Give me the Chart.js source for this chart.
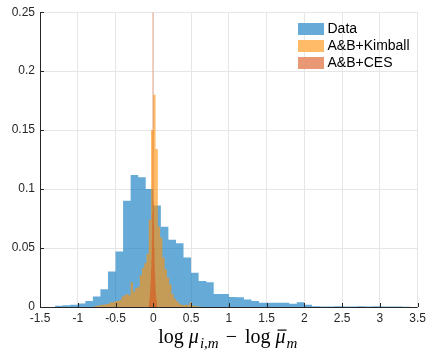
<!DOCTYPE html>
<html>
<head>
<meta charset="utf-8">
<script src="https://cdn.jsdelivr.net/npm/chart.js@4"></script>
<style>
  html, body { margin: 0; padding: 0; background: #fff; }
  #wrap { width: 430px; height: 351px; }
</style>
</head>
<body>
<div id="wrap"><canvas id="hist" width="430" height="351"></canvas></div>
<script>
// Histogramas (probabilidade por bin) -----------------------------------------
const seriesNames = ["Data", "A&B+Kimball", "A&B+CES"];

// Data: bins de 0.1 a partir de -1.3
const dataStart = -1.3, dataWidth = 0.1;
const dataHeights = [
  0.001, 0.0015, 0.002, 0.003, 0.005, 0.009, 0.015, 0.030, 0.047, 0.090,
  0.112, 0.110, 0.100, 0.086, 0.068, 0.057, 0.054, 0.042, 0.029, 0.022,
  0.021, 0.011, 0.011, 0.0085, 0.0083, 0.0064, 0.005, 0.0036, 0.0036, 0.0036,
  0.0036, 0.0027, 0.004, 0.002, 0.0006, 0.0004, 0.0005, 0.0006, 0.0004, 0.0005,
  0.0007, 0.0004, 0.0006, 0.0005, 0.0004, 0.0005, 0.0003
];

// A&B+Kimball: bins de 0.03 a partir de -0.78
const kimStart = -0.78, kimWidth = 0.03;
const kimHeights = [
  0.0008, 0.001, 0.0015, 0.002, 0.002, 0.0025, 0.003, 0.004, 0.004, 0.005,
  0.005, 0.006, 0.009, 0.010, 0.011, 0.010, 0.021, 0.013, 0.016, 0.017,
  0.027, 0.033, 0.037, 0.045, 0.074, 0.150, 0.180, 0.134, 0.068, 0.059,
  0.042, 0.032, 0.025, 0.019, 0.011, 0.007, 0.005, 0.003, 0.002, 0.0015,
  0.002, 0.0015, 0.004, 0.001, 0.001, 0.0005, 0.0005
];

// A&B+CES: bins de 0.005 a partir de -0.06 (o pico passa do topo do eixo)
const cesStart = -0.06, cesWidth = 0.005;
const cesHeights = [
  0.003, 0.005, 0.008, 0.012, 0.018, 0.024, 0.032, 0.040, 0.055, 0.080,
  0.60, 0.60, 0.090, 0.070, 0.050, 0.038, 0.028, 0.020, 0.013, 0.008,
  0.005, 0.003
];

// Eixos
const xTicks = [-1.5, -1, -0.5, 0, 0.5, 1, 1.5, 2, 2.5, 3, 3.5];
const xTickLabels = ["-1.5", "-1", "-0.5", "0", "0.5", "1", "1.5", "2", "2.5", "3", "3.5"];
const yTicks = [0, 0.05, 0.1, 0.15, 0.2, 0.25];
const yTickLabels = ["0", "0.05", "0.1", "0.15", "0.2", "0.25"];

// rótulo do eixo x em pedaços: [texto, estilo, espaço antes em px]
// (r=normal, i=itálico, b=itálico com barra, s=subscrito)
const xTitleParts = [["log", "r", 0], ["μ", "i", 5], ["i,m", "s", 1], ["−", "r", 7],
                     ["log", "r", 8], ["μ", "b", 5], ["m", "s", 1]];

const colors = ["rgba(0,114,189,0.6)", "rgba(255,145,10,0.62)", "rgba(217,83,25,0.6)"];

// bins -> pontos em degrau (borda esquerda + fechamento na borda direita)
function toSteps(start, width, heights) {
  const pts = heights.map((h, i) => ({ x: +(start + i * width).toFixed(4), y: h }));
  pts.push({ x: +(start + heights.length * width).toFixed(4), y: 0 });
  return pts;
}

function histDataset(label, pts, color, order) {
  return {
    label, data: pts, order,
    stepped: true, fill: "origin",
    backgroundColor: color, borderColor: "transparent", borderWidth: 0,
    pointRadius: 0, tension: 0
  };
}

const AXIS = "#262626";

// ticks para dentro + linhas dos eixos por cima das barras
const innerTicks = {
  id: "innerTicks",
  afterDatasetsDraw(chart) {
    const { ctx, chartArea: a, scales: { x, y } } = chart;
    ctx.save();
    ctx.strokeStyle = AXIS;
    ctx.lineWidth = 1;
    ctx.beginPath();
    xTicks.forEach(v => {
      const px = Math.round(x.getPixelForValue(v)) + 0.5;
      ctx.moveTo(px, a.bottom); ctx.lineTo(px, a.bottom - 4);
    });
    yTicks.forEach(v => {
      const py = Math.round(y.getPixelForValue(v)) + 0.5;
      ctx.moveTo(a.left, py); ctx.lineTo(a.left + 4, py);
    });
    ctx.moveTo(a.left + 0.5, a.top); ctx.lineTo(a.left + 0.5, a.bottom + 0.5);
    ctx.moveTo(a.left, a.bottom + 0.5); ctx.lineTo(a.right, a.bottom + 0.5);
    ctx.stroke();
    ctx.restore();
  }
};

// legenda dentro da área do gráfico, canto superior direito
const insideLegend = {
  id: "insideLegend",
  afterDraw(chart) {
    const { ctx } = chart;
    ctx.save();
    ctx.font = "14px 'Liberation Sans', Arial, sans-serif";
    ctx.textBaseline = "middle";
    chart.data.datasets.forEach((ds, i) => {
      const top = 23 + i * 17;
      ctx.fillStyle = "#fff";
      ctx.fillRect(298, top, 26, 12);
      ctx.fillStyle = ds.backgroundColor;
      ctx.fillRect(298, top, 26, 12);
      ctx.fillStyle = "#000";
      ctx.fillText(ds.label, 327.5, top + 6.5);
    });
    ctx.restore();
  }
};

// rótulo matemático do eixo x
const mathTitle = {
  id: "mathTitle",
  afterDraw(chart) {
    const { ctx, chartArea: a } = chart;
    const fam = "'Liberation Serif', 'DejaVu Serif', serif";
    const fonts = {
      r: `20px ${fam}`, i: `italic 20px ${fam}`, b: `italic 20px ${fam}`, s: `italic 15px ${fam}`
    };
    ctx.save();
    let total = 0;
    const widths = xTitleParts.map(([t, s, gap]) => {
      ctx.font = fonts[s];
      const w = ctx.measureText(t).width;
      total += w + gap;
      return w;
    });
    let cx = (a.left + a.right) / 2 - 1 - total / 2;
    const base = 343;
    ctx.fillStyle = "#000";
    ctx.textBaseline = "alphabetic";
    xTitleParts.forEach(([t, s, gap], i) => {
      cx += gap;
      ctx.font = fonts[s];
      ctx.fillText(t, cx, s === "s" ? base + 4.5 : base);
      if (s === "b") ctx.fillRect(cx + 2, base - 13.5, widths[i] - 1, 1.2);
      cx += widths[i];
    });
    ctx.restore();
  }
};

const tickFont = { family: "'Liberation Sans', Arial, sans-serif", size: 12 };

new Chart(document.getElementById("hist").getContext("2d"), {
  type: "line",
  data: {
    datasets: [
      histDataset(seriesNames[0], toSteps(dataStart, dataWidth, dataHeights), colors[0], 3),
      histDataset(seriesNames[1], toSteps(kimStart, kimWidth, kimHeights), colors[1], 2),
      histDataset(seriesNames[2], toSteps(cesStart, cesWidth, cesHeights), colors[2], 1)
    ]
  },
  options: {
    responsive: false,
    animation: false,
    layout: { padding: { top: 12, right: 9, left: 0, bottom: 0 } },
    plugins: { legend: { display: false }, tooltip: { enabled: false } },
    scales: {
      x: {
        type: "linear", min: -1.5, max: 3.5,
        afterBuildTicks: s => { s.ticks = xTicks.map(v => ({ value: v })); },
        afterFit: s => { s.height = 44; },
        ticks: { callback: (v, i) => xTickLabels[i], autoSkip: false, maxRotation: 0, padding: 4, color: AXIS, font: tickFont },
        grid: { color: "#e6e6e6", drawTicks: false },
        border: { display: false }
      },
      y: {
        type: "linear", min: 0, max: 0.25,
        afterBuildTicks: s => { s.ticks = yTicks.map(v => ({ value: v })); },
        afterFit: s => { s.width = 40; },
        ticks: { callback: (v, i) => yTickLabels[i], padding: 5, color: AXIS, font: tickFont },
        grid: { color: "#e6e6e6", drawTicks: false },
        border: { display: false }
      }
    }
  },
  plugins: [innerTicks, insideLegend, mathTitle]
});
</script>
</body>
</html>
